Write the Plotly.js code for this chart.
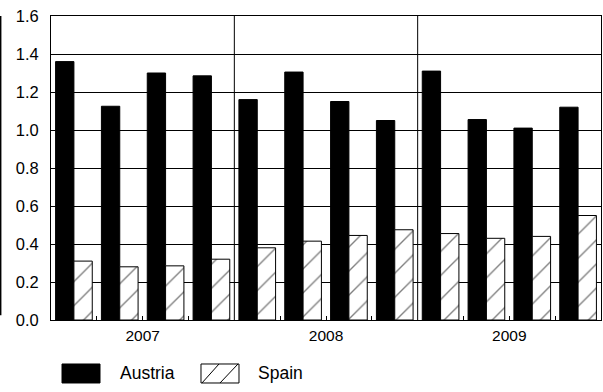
<!DOCTYPE html>
<html>
<head>
<meta charset="utf-8">
<script src="https://cdn.plot.ly/plotly-3.0.1.min.js"></script>
<style>html,body{margin:0;padding:0;background:#fff;}#chart{width:603px;height:392px;}</style>
</head>
<body>
<div id="chart"></div>
<script>
var years = ["2007", "2008", "2009"];
var quarters = ["Q1", "Q2", "Q3", "Q4"];
var seriesNames = ["Austria", "Spain"];
var austria = [1.36, 1.125, 1.30, 1.285, 1.16, 1.305, 1.15, 1.05, 1.31, 1.055, 1.01, 1.12];
var spain = [0.31, 0.28, 0.285, 0.32, 0.38, 0.415, 0.445, 0.475, 0.455, 0.43, 0.44, 0.55];
var yTicks = [0, 0.2, 0.4, 0.6, 0.8, 1.0, 1.2, 1.4, 1.6];

var n = years.length * quarters.length;
var xs = [];
for (var i = 0; i < n; i++) xs.push(i);
var q = quarters.length;
var yearCenters = years.map(function (y, k) { return k * q + (q - 1) / 2; });
var minorVals = [];
var seps = [];
for (var i = 0; i < n - 1; i++) {
  if ((i + 1) % q === 0) seps.push(i + 0.5); else minorVals.push(i + 0.5);
}

var fam = "Liberation Sans, Arial, sans-serif";
var font = {family: fam, size: 15.5, color: "#000"};
var yfont = {family: fam, size: 16.5, color: "#000"};
var lfont = {family: fam, size: 17.5, color: "#000"};

var traces = [
  {type: "bar", name: seriesNames[0], x: xs, y: austria,
   marker: {color: "#000", line: {color: "#000", width: 1}}},
  {type: "bar", name: seriesNames[1], x: xs, y: spain,
   marker: {color: "#fff", line: {color: "#000", width: 1},
            pattern: {shape: "/", fgcolor: "#000", bgcolor: "#fff", size: 17, solidity: 0.08, fillmode: "overlay"}}}
];

var shapes = seps.map(function (s) {
  return {type: "line", xref: "x", yref: "paper", x0: s, x1: s, y0: 0, y1: 1, line: {color: "#000", width: 1}};
});
shapes.push({type: "line", xref: "paper", yref: "paper", x0: -0.0915, x1: -0.0915, y0: 0.016, y1: 1.0, line: {color: "#000", width: 1.5}});
// custom legend symbols
shapes.push({type: "rect", xref: "paper", yref: "paper", x0: 0.02, x1: 0.0891, y0: -0.2072, y1: -0.1447,
             fillcolor: "#000", line: {color: "#000", width: 1}});
shapes.push({type: "rect", xref: "paper", yref: "paper", x0: 0.2727, x1: 0.3418, y0: -0.2072, y1: -0.1447,
             fillcolor: "#fff", line: {color: "#000", width: 1}});
shapes.push({type: "line", xref: "paper", yref: "paper", x0: 0.2745, x1: 0.3055, y0: -0.2072, y1: -0.1447,
             line: {color: "#000", width: 1}});
shapes.push({type: "line", xref: "paper", yref: "paper", x0: 0.3073, x1: 0.3400, y0: -0.2072, y1: -0.1447,
             line: {color: "#000", width: 1}});

var annotations = [
  {xref: "paper", yref: "paper", x: 0.121, y: -0.1743, xanchor: "left", yanchor: "middle", text: seriesNames[0], showarrow: false, font: lfont},
  {xref: "paper", yref: "paper", x: 0.372, y: -0.1743, xanchor: "left", yanchor: "middle", text: seriesNames[1], showarrow: false, font: lfont}
];

var layout = {
  width: 603, height: 392,
  margin: {l: 51, r: 2, t: 16, b: 72},
  paper_bgcolor: "#fff", plot_bgcolor: "#fff",
  font: font,
  barmode: "group", bargap: 0.2, bargroupgap: 0,
  showlegend: false,
  xaxis: {
    range: [-0.5, n - 0.5], tickmode: "array", tickvals: yearCenters, ticktext: years,
    ticks: "", showgrid: false, zeroline: false, showline: true, linecolor: "#000", linewidth: 1,
    mirror: true, tickfont: font, ticklabelstandoff: 1,
    minor: {tickmode: "array", tickvals: minorVals, ticks: "inside", ticklen: 4, tickcolor: "#000", tickwidth: 1, showgrid: false}
  },
  yaxis: {
    range: [0, 1.6], tickmode: "array", tickvals: yTicks,
    ticktext: yTicks.map(function (v) { return v.toFixed(1); }),
    showgrid: true, gridcolor: "#000", gridwidth: 1, zeroline: false,
    showline: true, linecolor: "#000", linewidth: 1, mirror: true,
    ticks: "", tickfont: yfont, ticklabelstandoff: 8
  },
  shapes: shapes,
  annotations: annotations
};

Plotly.newPlot("chart", traces, layout, {displayModeBar: false, staticPlot: true});
</script>
</body>
</html>
